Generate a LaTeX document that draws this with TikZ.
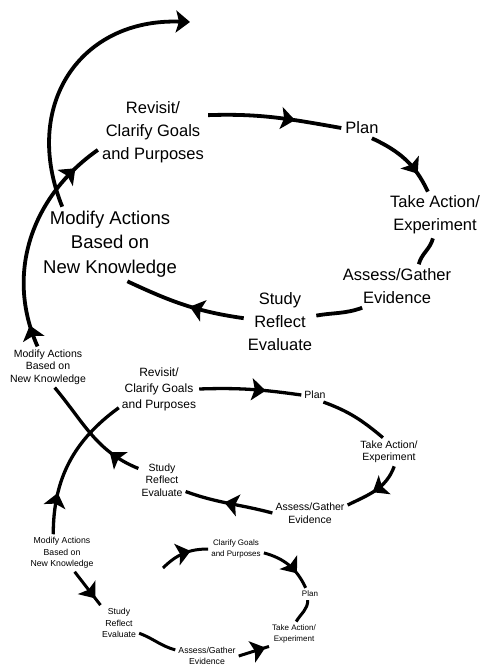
\documentclass[tikz,border=0pt]{standalone}
\usepackage{fontspec}
\setmainfont{Liberation Sans}
\usetikzlibrary{arrows.meta,decorations.markings}

\tikzset{
  spiraltip/.tip={Stealth[length=14pt,width=22pt,inset=3pt]},
  endtip/.tip={Stealth[length=14pt,width=22pt,inset=3pt]},
  bigtxt/.style={font=\fontsize{16.5}{23}\selectfont, align=center, inner sep=4pt},
  modtxt/.style={font=\fontsize{18.5}{24.5}\selectfont, align=center, inner sep=4pt},
  revtxt/.style={font=\fontsize{12}{16}\selectfont, align=center, inner sep=3pt},
  midtxt/.style={font=\fontsize{10.5}{12.5}\selectfont, align=center, inner sep=3pt},
  smalltxt/.style={font=\fontsize{8.7}{11.5}\selectfont, align=center, inner sep=3pt},
  tinytxt/.style={font=\fontsize{8}{11}\selectfont, align=center, inner sep=3pt},
  outerpath/.style={line width=3.8pt},
  middlepath/.style={line width=3.3pt},
  innerpath/.style={line width=3pt},
  midarrow/.style={postaction={decorate,decoration={markings,
      mark=at position #1 with {\arrow{spiraltip}}}}}
}

\begin{document}
\begin{tikzpicture}[x=1pt, y=-1pt]
  \useasboundingbox (0,0) rectangle (500,672);

  \node [bigtxt] (revA)   at (153,132) {Revisit/\\Clarify Goals\\and Purposes};
  \node [bigtxt] (planA)  at (362,128) {Plan};
  \node [bigtxt] (actA)   at (435,215) {Take Action/\\Experiment};
  \node [bigtxt] (assA)   at (397,286) {Assess/Gather\\Evidence};
  \node [bigtxt] (studyA) at (280,322) {Study\\Reflect\\Evaluate};
  \node [modtxt] (modA)   at (110,244) {Modify Actions\\Based on\\New Knowledge};
  \coordinate (topend) at (190,22);

  \node [midtxt] (modB)   at (48,367)  {Modify Actions\\Based on\\New Knowledge};
  \node [revtxt] (revB)   at (159,389) {Revisit/\\Clarify Goals\\and Purposes};
  \node [midtxt] (planB)  at (315,395) {Plan};
  \node [midtxt] (actB)   at (389,452) {Take Action/\\Experiment};
  \node [midtxt] (assB)   at (310,513) {Assess/Gather\\Evidence};
  \node [midtxt] (studyB) at (162,480) {Study\\Reflect\\Evaluate};

  \node [smalltxt] (modC)   at (62,553)  {Modify Actions\\Based on\\New Knowledge};
  \node [smalltxt] (studyC) at (119,623) {Study\\Reflect\\Evaluate};
  \node [smalltxt] (assC)   at (207,656) {Assess/Gather\\Evidence};
  \node [tinytxt]  (actC)   at (294,634) {Take Action/\\Experiment};
  \node [tinytxt]  (planC)  at (310,594) {Plan};
  \node [tinytxt]  (clarC)  at (236,549) {Clarify Goals\\and Purposes};
  \coordinate (startC) at (163,568);

  \path[outerpath]
    (revA.17)    edge [out=2, in=170, midarrow=0.65]   (planA.west)
    (planA.-46)  edge [out=-25, in=115, midarrow=0.74] (actA.107)
    (actA.-95)   edge [out=-105, in=75]                (assA.45)
    (assA.-148)  edge [out=200, in=10]                 (studyA.10)
    (studyA.174) edge [out=172, in=-25, midarrow=0.45] (modA.-65)
    (modB.117)   edge [out=114, in=215, midarrow=0.1, midarrow=0.87] (revA.198)
    (modA.142)   edge [out=112, in=178, looseness=1.25, -endtip] (topend);

  \path[middlepath]
    (revB.east)  edge [out=2, in=172, midarrow=0.65]   (planB.west)
    (planB.-40)  edge [out=-20, in=140]                (actB.113)
    (actB.-70)   edge [out=-110, in=26, midarrow=0.55] (assB.12)
    (assB.west)  edge [out=165, in=-20, midarrow=0.55] (studyB.-26)
    (studyB.154) edge [out=158, in=-50, midarrow=0.28] (modB.-72)
    (modC.115)   edge [out=90, in=216, midarrow=0.28]  (revB.205);

  \path[innerpath]
    (modC.-56)   edge [midarrow=0.8]                   (studyC.136)
    (studyC.-27) edge [out=-20, in=165]                (assC.169)
    (assC.east)  edge [midarrow=0.88]                  (actC.south west)
    (actC.80)    edge [out=60, in=-90]                 (planC.-110)
    (clarC.-8)   edge [out=-15, in=115, midarrow=0.7]  (planC.125)
    (startC)     edge [out=45, in=180, midarrow=0.65]  (clarC.west);
\end{tikzpicture}
\end{document}
